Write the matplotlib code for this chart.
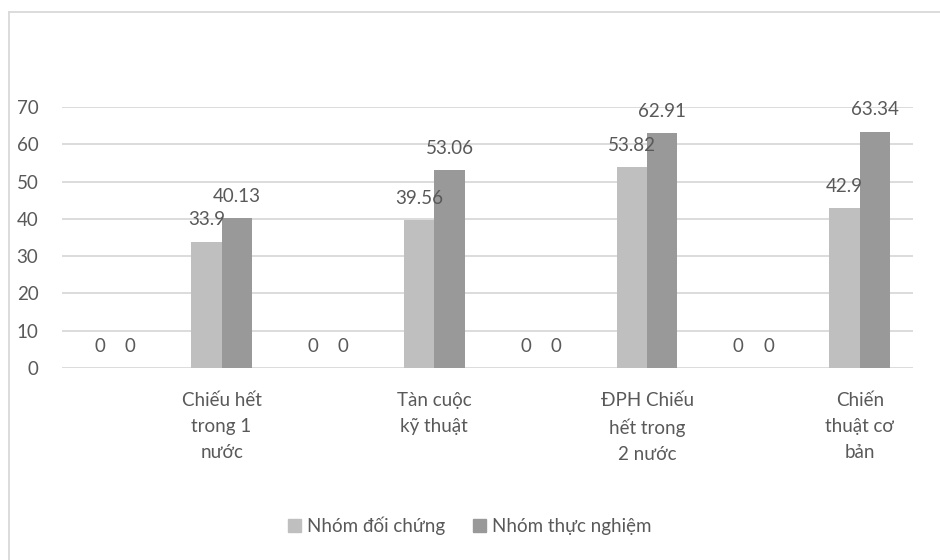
import matplotlib.pyplot as plt
import numpy as np
from matplotlib.patches import Patch
from matplotlib.lines import Line2D

plt.rcParams['font.family'] = ['Lato', 'DejaVu Sans']

categories = ['', 'Chiếu hết\ntrong 1\nnước', '', 'Tàn cuộc\nkỹ thuật',
              '', 'ĐPH Chiếu\nhết trong\n2 nước', '', 'Chiến\nthuật cơ\nbản']
doi_chung = [0, 33.9, 0, 39.56, 0, 53.82, 0, 42.9]
thuc_nghiem = [0, 40.13, 0, 53.06, 0, 62.91, 0, 63.34]
series_names = ['Nhóm đối chứng', 'Nhóm thực nghiệm']

c_light = '#BFBFBF'
c_dark = '#999999'
txt = '#595959'
grid = '#D9D9D9'
fs = 13.5

W, H = 940, 560
fig = plt.figure(figsize=(W / 100, H / 100), dpi=100)
ax = fig.add_axes([62 / W, (H - 368) / H, (913 - 62) / W, (368 - 107) / H])

x = np.arange(len(categories))
w = 0.285
b1 = ax.bar(x - w / 2, doi_chung, w, color=c_light, zorder=3)
b2 = ax.bar(x + w / 2, thuc_nghiem, w, color=c_dark, zorder=3)

for bars, vals in ((b1, doi_chung), (b2, thuc_nghiem)):
    for r, v in zip(bars, vals):
        ax.annotate(f'{v:g}', (r.get_x() + r.get_width() / 2, v),
                    xytext=(0, 22), textcoords='offset pixels',
                    ha='center', va='center', fontsize=fs, color=txt,
                    clip_on=False, zorder=4)

ax.set_xlim(-0.5, len(categories) - 0.5)
ax.set_ylim(0, 70)
ax.set_yticks(range(0, 71, 10))
ax.yaxis.grid(True, color=grid, linewidth=1.3, zorder=0)
ax.set_axisbelow(True)
for s in ax.spines.values():
    s.set_visible(False)
ax.tick_params(axis='y', length=0, pad=17, labelsize=fs, labelcolor=txt)
ax.set_xticks(x)
ax.set_xticklabels(categories, fontsize=fs, color=txt, linespacing=1.65,
                   va='top')
ax.tick_params(axis='x', length=0, pad=17)

handles = [Patch(color=c_light), Patch(color=c_dark)]
fig.legend(handles, series_names, loc='center', ncol=2,
           bbox_to_anchor=(470 / W, (H - 526) / H), frameon=False,
           fontsize=fs, labelcolor=txt, handlelength=0.65, handleheight=0.65,
           handletextpad=0.35, columnspacing=1.5)

# chart area border (left and top edges)
fig.add_artist(Line2D([9 / W, 9 / W], [0, (H - 12) / H], color=grid,
                      linewidth=1.3, transform=fig.transFigure))
fig.add_artist(Line2D([9 / W, 1], [(H - 12) / H, (H - 12) / H], color=grid,
                      linewidth=1.3, transform=fig.transFigure))

fig.savefig('out.png', dpi=100, facecolor='white')
